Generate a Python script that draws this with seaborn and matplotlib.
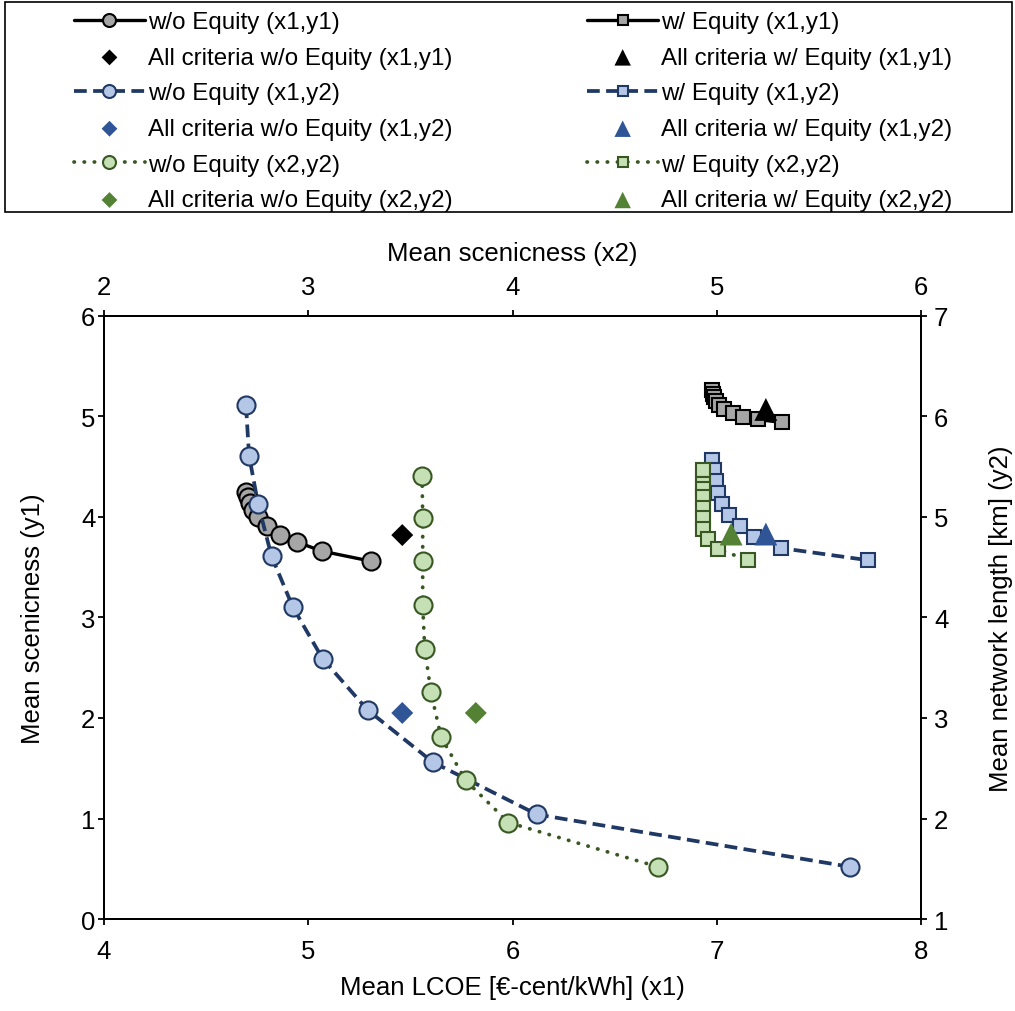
import matplotlib
matplotlib.use("Agg")
import matplotlib.pyplot as plt
from matplotlib.patches import Rectangle
import seaborn as sns

# --- data ---
# w/o Equity (x1, y1)
wo_x1y1_x = [4.695, 4.705, 4.715, 4.73, 4.754, 4.80, 4.86, 4.945, 5.067, 5.307]
wo_x1y1_y = [4.25, 4.20, 4.14, 4.07, 4.00, 3.91, 3.82, 3.75, 3.66, 3.56]
# w/ Equity (x1, y1)
w_x1y1_x = [6.977, 6.98, 6.985, 6.995, 7.01, 7.035, 7.08, 7.13, 7.20, 7.32]
w_x1y1_y = [5.26, 5.22, 5.19, 5.15, 5.11, 5.07, 5.03, 4.99, 4.97, 4.94]
# w/o Equity (x1, y2)
wo_x1y2_x = [4.695, 4.71, 4.754, 4.82, 4.925, 5.07, 5.29, 5.61, 6.12, 7.65]
wo_x1y2_y = [6.11, 5.61, 5.13, 4.61, 4.10, 3.59, 3.08, 2.56, 2.04, 1.52]
# w/ Equity (x1, y2)
w_x1y2_x = [6.977, 6.987, 6.996, 7.006, 7.026, 7.06, 7.114, 7.18, 7.315, 7.74]
w_x1y2_y = [5.57, 5.47, 5.36, 5.24, 5.13, 5.02, 4.91, 4.80, 4.69, 4.57]
# w/o Equity (x2, y2)
wo_x2y2_x = [3.557, 3.56, 3.56, 3.56, 3.57, 3.60, 3.65, 3.77, 3.98, 4.71]
wo_x2y2_y = [5.41, 4.99, 4.56, 4.12, 3.69, 3.26, 2.81, 2.38, 1.96, 1.52]
# w/ Equity (x2, y2)
w_x2y2_x = [4.933, 4.933, 4.933, 4.933, 4.933, 4.933, 4.933, 4.957, 5.006, 5.153]
w_x2y2_y = [5.47, 5.33, 5.28, 5.20, 5.09, 4.99, 4.88, 4.78, 4.68, 4.57]

# "All criteria" single points: (x, y)
all_wo_x1y1 = (5.46, 3.82)
all_w_x1y1 = (7.24, 5.07)
all_wo_x1y2 = (5.46, 3.05)
all_w_x1y2 = (7.24, 4.83)
all_wo_x2y2 = (3.82, 3.05)
all_w_x2y2 = (5.07, 4.83)

# --- style ---
sns.set_theme(style="ticks")
FS = 18.5
plt.rcParams["font.family"] = ["Liberation Sans", "DejaVu Sans"]
plt.rcParams["font.size"] = FS
plt.rcParams["text.color"] = "black"
plt.rcParams["axes.labelcolor"] = "black"
plt.rcParams["axes.edgecolor"] = "black"
plt.rcParams["xtick.color"] = "black"
plt.rcParams["ytick.color"] = "black"
plt.rcParams["axes.linewidth"] = 1.3
plt.rcParams["xtick.major.size"] = 4.3
plt.rcParams["ytick.major.size"] = 4.3
plt.rcParams["xtick.major.width"] = 1.3
plt.rcParams["ytick.major.width"] = 1.3
plt.rcParams["xtick.labelsize"] = FS
plt.rcParams["ytick.labelsize"] = FS
plt.rcParams["axes.labelsize"] = FS

GREY, GREY_EDGE = "#A6A6A6", "black"
BLUE_FILL, NAVY, BLUE_PT = "#B4C7E7", "#203864", "#2F5597"
GREEN_FILL, DKGREEN, GREEN_PT = "#C5E0B4", "#385723", "#548235"

dashed = (0, (3.4, 1.7))
dotted = (0, (0.1, 2.6))

fig = plt.figure(figsize=(10.15, 10.12), dpi=100)
ax = fig.add_axes([0.1025, 0.0909, 0.805, 0.5959])
ax2 = ax.twinx()
ax3 = ax2.twiny()

# --- (x1, y1) on primary axes ---
sns.lineplot(x=wo_x1y1_x, y=wo_x1y1_y, sort=False, estimator=None, ax=ax,
             color="black", linewidth=2.4, marker="o", markersize=13,
             markerfacecolor=GREY, markeredgecolor=GREY_EDGE, markeredgewidth=1.5,
             label="w/o Equity (x1,y1)", legend=False)
sns.lineplot(x=w_x1y1_x, y=w_x1y1_y, sort=False, estimator=None, ax=ax,
             color="black", linewidth=2.4, marker="s", markersize=9.5,
             markerfacecolor=GREY, markeredgecolor=GREY_EDGE, markeredgewidth=1.5,
             label="w/ Equity (x1,y1)", legend=False)
sns.scatterplot(x=[all_wo_x1y1[0]], y=[all_wo_x1y1[1]], ax=ax, marker="D", s=125,
                color="black", edgecolor="none", label="All criteria w/o Equity (x1,y1)",
                legend=False, zorder=5)
sns.scatterplot(x=[all_w_x1y1[0]], y=[all_w_x1y1[1]], ax=ax, marker="^", s=270,
                color="black", edgecolor="none", label="All criteria w/ Equity (x1,y1)",
                legend=False, zorder=5)

# --- (x1, y2) on right axis ---
sns.lineplot(x=wo_x1y2_x, y=wo_x1y2_y, sort=False, estimator=None, ax=ax2,
             color=NAVY, linewidth=2.7, linestyle=dashed, marker="o", markersize=13,
             markerfacecolor=BLUE_FILL, markeredgecolor=NAVY, markeredgewidth=1.5,
             label="w/o Equity (x1,y2)", legend=False)
sns.lineplot(x=w_x1y2_x, y=w_x1y2_y, sort=False, estimator=None, ax=ax2,
             color=NAVY, linewidth=2.7, linestyle=dashed, marker="s", markersize=9.5,
             markerfacecolor=BLUE_FILL, markeredgecolor=NAVY, markeredgewidth=1.5,
             label="w/ Equity (x1,y2)", legend=False)
sns.scatterplot(x=[all_wo_x1y2[0]], y=[all_wo_x1y2[1]], ax=ax2, marker="D", s=125,
                color=BLUE_PT, edgecolor="none", label="All criteria w/o Equity (x1,y2)",
                legend=False, zorder=5)
sns.scatterplot(x=[all_w_x1y2[0]], y=[all_w_x1y2[1]], ax=ax2, marker="^", s=270,
                color=BLUE_PT, edgecolor="none", label="All criteria w/ Equity (x1,y2)",
                legend=False, zorder=5)

# --- (x2, y2) on top + right axes ---
sns.lineplot(x=wo_x2y2_x, y=wo_x2y2_y, sort=False, estimator=None, ax=ax3,
             color=DKGREEN, linewidth=2.7, linestyle=dotted, dash_capstyle="round",
             marker="o", markersize=13,
             markerfacecolor=GREEN_FILL, markeredgecolor=DKGREEN, markeredgewidth=1.5,
             label="w/o Equity (x2,y2)", legend=False)
sns.lineplot(x=w_x2y2_x, y=w_x2y2_y, sort=False, estimator=None, ax=ax3,
             color=DKGREEN, linewidth=2.7, linestyle=dotted, dash_capstyle="round",
             marker="s", markersize=9.5,
             markerfacecolor=GREEN_FILL, markeredgecolor=DKGREEN, markeredgewidth=1.5,
             label="w/ Equity (x2,y2)", legend=False)
sns.scatterplot(x=[all_wo_x2y2[0]], y=[all_wo_x2y2[1]], ax=ax3, marker="D", s=125,
                color=GREEN_PT, edgecolor="none", label="All criteria w/o Equity (x2,y2)",
                legend=False, zorder=5)
sns.scatterplot(x=[all_w_x2y2[0]], y=[all_w_x2y2[1]], ax=ax3, marker="^", s=270,
                color=GREEN_PT, edgecolor="none", label="All criteria w/ Equity (x2,y2)",
                legend=False, zorder=5)

# --- axes ---
ax.set_xlim(4, 8)
ax.set_ylim(0, 6)
ax2.set_ylim(1, 7)
ax3.set_xlim(2, 6)
ax.set_xticks(range(4, 9))
ax.set_yticks(range(0, 7))
ax2.set_yticks(range(1, 8))
ax3.set_xticks(range(2, 7))
ax.set_xlabel("Mean LCOE [€-cent/kWh] (x1)", labelpad=9)
ax.set_ylabel("Mean scenicness (y1)", labelpad=26)
ax2.set_ylabel("Mean network length [km] (y2)", labelpad=29)
ax3.set_xlabel("Mean scenicness (x2)", labelpad=11)
for a in (ax, ax2, ax3):
    for s in a.spines.values():
        s.set_color("black")
    a.tick_params(colors="black", direction="out")
    a.grid(False)
ax.tick_params(axis="x", pad=10)
ax.tick_params(axis="y", pad=2)
ax2.tick_params(axis="y", pad=5)
ax3.tick_params(axis="x", pad=8)

# --- legend in a boxed strip across the top ---
h1, l1 = ax.get_legend_handles_labels()
h2, l2 = ax2.get_legend_handles_labels()
h3, l3 = ax3.get_legend_handles_labels()
# order: col 1 = w/o entries, col 2 = w/ entries
left = [h1[0], h1[2], h2[0], h2[2], h3[0], h3[2]]
left_l = [l1[0], l1[2], l2[0], l2[2], l3[0], l3[2]]
right = [h1[1], h1[3], h2[1], h2[3], h3[1], h3[3]]
right_l = [l1[1], l1[3], l2[1], l2[3], l3[1], l3[3]]
fig.legend(left + right, left_l + right_l, ncol=2, frameon=False,
           loc="upper left", bbox_to_anchor=(62 / 1015, 1.0),
           borderpad=0, handlelength=2.93, handletextpad=0.12,
           columnspacing=5.58, labelspacing=0.565, markerscale=0.72,
           fontsize=17.4, labelcolor="black")
fig.patches.append(Rectangle((5 / 1015, 1 - 213 / 1012), 1007 / 1015, 210 / 1012,
                             transform=fig.transFigure, fill=False,
                             edgecolor="black", linewidth=1.2))

plt.savefig("out.png", dpi=100)
